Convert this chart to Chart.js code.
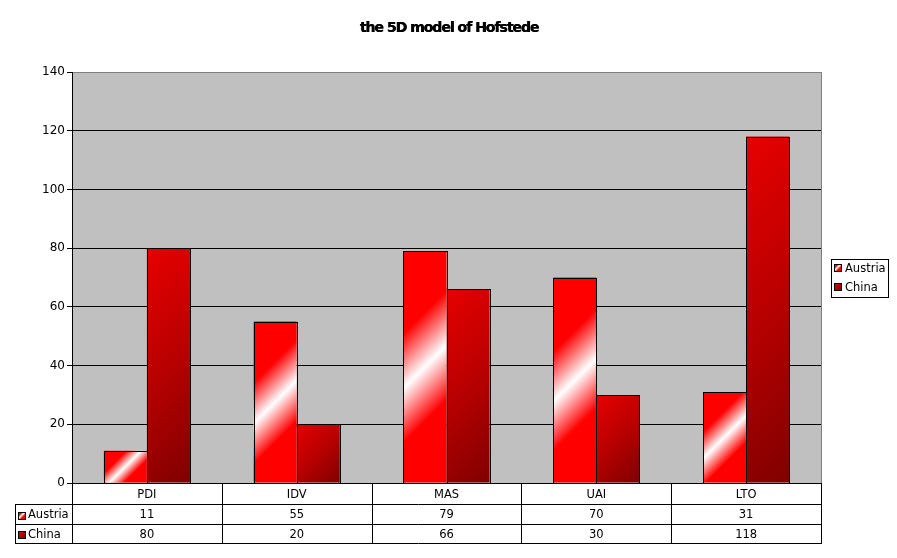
<!DOCTYPE html>
<html>
<head>
<meta charset="utf-8">
<script src="https://cdn.jsdelivr.net/npm/chart.js@4.4.1/dist/chart.umd.min.js"></script>
<style>
  html, body { margin: 0; padding: 0; background: #fff; }
  canvas { display: block; }
</style>
</head>
<body>
<canvas id="chart" width="897" height="558"></canvas>
<script>
// data
const chartTitle = 'the 5D model of Hofstede';
const dimensions = ['PDI', 'IDV', 'MAS', 'UAI', 'LTO'];
const austria = [11, 55, 79, 70, 31];
const china = [80, 20, 66, 30, 118];
const seriesNames = ['Austria', 'China'];
const yMax = 140;
const yStep = 20;

const FONT = 'DejaVu Sans, Verdana, sans-serif';

// diagonal gradient over one box, colour lines at 45 degrees
function barGradient(ctx, left, top, w, h, stops) {
    const d = (w + h) / 2;
    const g = ctx.createLinearGradient(left, top, left + d, top + d);
    stops.forEach(s => g.addColorStop(s[0], s[1]));
    return g;
}
const austriaStops = [[0, '#ff0000'], [0.3, '#ff0000'], [0.5, '#ffffff'], [0.7, '#ff0000'], [1, '#ff0000']];
const chinaStops = [[0, '#e80000'], [0.5, '#b80000'], [1, '#800000']];
const seriesStops = [austriaStops, chinaStops];

const decorPlugin = {
    id: 'decor',
    beforeDraw(chart) {
        const { ctx, chartArea: a } = chart;
        ctx.save();
        ctx.fillStyle = '#fff';
        ctx.fillRect(0, 0, chart.width, chart.height);
        ctx.fillStyle = '#c0c0c0';
        ctx.fillRect(a.left, a.top, a.right - a.left, a.bottom - a.top);
        ctx.restore();
    },
    beforeDatasetsDraw(chart) {
        const { ctx, chartArea: a } = chart;
        ctx.save();
        ctx.strokeStyle = '#808080';
        ctx.lineWidth = 1;
        ctx.beginPath();
        ctx.moveTo(a.right + 0.5, a.top);
        ctx.lineTo(a.right + 0.5, a.bottom);
        ctx.stroke();
        ctx.restore();

        // give every bar its own diagonal gradient
        chart.data.datasets.forEach((ds, di) => {
            chart.getDatasetMeta(di).data.forEach(el => {
                const left = el.x - el.width / 2;
                const top = Math.min(el.y, el.base);
                const h = Math.abs(el.base - el.y);
                const fill = barGradient(ctx, left, top, el.width, h, seriesStops[di]);
                el.options = Object.assign({}, el.options, { backgroundColor: fill });
            });
        });
    },
    afterDatasetsDraw(chart) {
        // crisp black outline on each bar, snapped to whole pixels
        const { ctx } = chart;
        ctx.save();
        ctx.strokeStyle = '#000';
        ctx.lineWidth = 1;
        chart.data.datasets.forEach((ds, di) => {
            chart.getDatasetMeta(di).data.forEach(el => {
                const l = Math.round(el.x - el.width / 2);
                const r = Math.round(el.x + el.width / 2);
                const t = Math.round(Math.min(el.y, el.base));
                const b = Math.round(Math.max(el.y, el.base));
                ctx.strokeRect(l + 0.5, t + 0.5, r - l, b - t);
            });
        });
        ctx.restore();
    },
    afterDraw(chart) {
        const { ctx, chartArea: a } = chart;
        const xs = chart.scales.x;
        const colW = (a.right - a.left) / dimensions.length;
        ctx.save();

        // title
        ctx.fillStyle = '#000';
        ctx.font = 'bold 14px ' + FONT;
        ctx.letterSpacing = '-1px';
        ctx.textAlign = 'center';
        ctx.textBaseline = 'middle';
        ctx.fillText(chartTitle, 449, 28);
        ctx.fillText(chartTitle, 449.5, 28);
        ctx.letterSpacing = '0px';

        // data table
        const rowTop = [a.bottom, a.bottom + 21, a.bottom + 41, a.bottom + 60];
        const tableLeft = 15;
        ctx.strokeStyle = '#000';
        ctx.lineWidth = 1;
        ctx.beginPath();
        for (let r = 1; r < rowTop.length; r++) {
            ctx.moveTo(tableLeft, rowTop[r] + 0.5);
            ctx.lineTo(a.right + 1, rowTop[r] + 0.5);
        }
        for (let i = 0; i <= dimensions.length; i++) {
            const x = Math.round(a.left + i * colW) + 0.5;
            ctx.moveTo(x, rowTop[0]);
            ctx.lineTo(x, rowTop[3] + 1);
        }
        ctx.moveTo(tableLeft + 0.5, rowTop[1]);
        ctx.lineTo(tableLeft + 0.5, rowTop[3] + 1);
        ctx.stroke();

        ctx.font = '11.5px ' + FONT;
        ctx.fillStyle = '#000';
        ctx.textAlign = 'center';
        const rows = [dimensions, austria, china];
        rows.forEach((vals, r) => {
            const cy = (rowTop[r] + rowTop[r + 1]) / 2 + 1.5;
            vals.forEach((v, i) => {
                ctx.fillText(String(v), xs.getPixelForValue(i), cy);
            });
        });

        // legend keys inside the table
        seriesNames.forEach((name, s) => {
            const cy = (rowTop[s + 1] + rowTop[s + 2]) / 2 + 1.5;
            drawKey(ctx, 18, Math.round(cy) - 4, seriesStops[s]);
            ctx.fillStyle = '#000';
            ctx.textAlign = 'left';
            ctx.fillText(name, 28, cy);
        });

        // legend box on the right
        ctx.fillStyle = '#fff';
        ctx.fillRect(831, 259, 57, 38);
        ctx.strokeStyle = '#000';
        ctx.strokeRect(831.5, 259.5, 57, 38);
        seriesNames.forEach((name, s) => {
            const cy = 268 + s * 19;
            drawKey(ctx, 834, cy - 4, seriesStops[s]);
            ctx.fillStyle = '#000';
            ctx.textAlign = 'left';
            ctx.fillText(name, 845, cy + 1);
        });
        ctx.restore();
    }
};

function drawKey(ctx, x, y, stops) {
    ctx.fillStyle = barGradient(ctx, x, y, 7, 7, stops);
    ctx.fillRect(x, y, 7, 7);
    ctx.strokeStyle = '#000';
    ctx.strokeRect(x + 0.5, y + 0.5, 7, 7);
}

new Chart(document.getElementById('chart'), {
    type: 'bar',
    data: {
        labels: dimensions,
        datasets: [{
            label: seriesNames[0],
            data: austria,
            backgroundColor: '#ff0000',
            borderWidth: 0
        }, {
            label: seriesNames[1],
            data: china,
            backgroundColor: '#b80000',
            borderWidth: 0
        }]
    },
    options: {
        responsive: false,
        devicePixelRatio: 1,
        animation: false,
        categoryPercentage: 0.575,
        barPercentage: 1,
        layout: { padding: { top: 72, left: 0, right: 76, bottom: 75 } },
        plugins: {
            legend: { display: false },
            title: { display: false },
            tooltip: { enabled: false }
        },
        scales: {
            x: {
                grid: { display: false, drawTicks: false },
                ticks: { display: false },
                border: { color: '#000', width: 1 },
                afterFit: s => { s.height = 0; }
            },
            y: {
                min: 0,
                max: yMax,
                ticks: {
                    stepSize: yStep,
                    color: '#000',
                    padding: 2,
                    font: { family: FONT, size: 12 }
                },
                grid: {
                    color: c => (c.tick && c.tick.value === yMax ? '#808080' : '#000'),
                    tickColor: '#000',
                    tickLength: 5,
                    lineWidth: 1
                },
                border: { color: '#000', width: 1 },
                afterFit: s => { s.width = 72; }
            }
        }
    },
    plugins: [decorPlugin]
});
</script>
</body>
</html>
